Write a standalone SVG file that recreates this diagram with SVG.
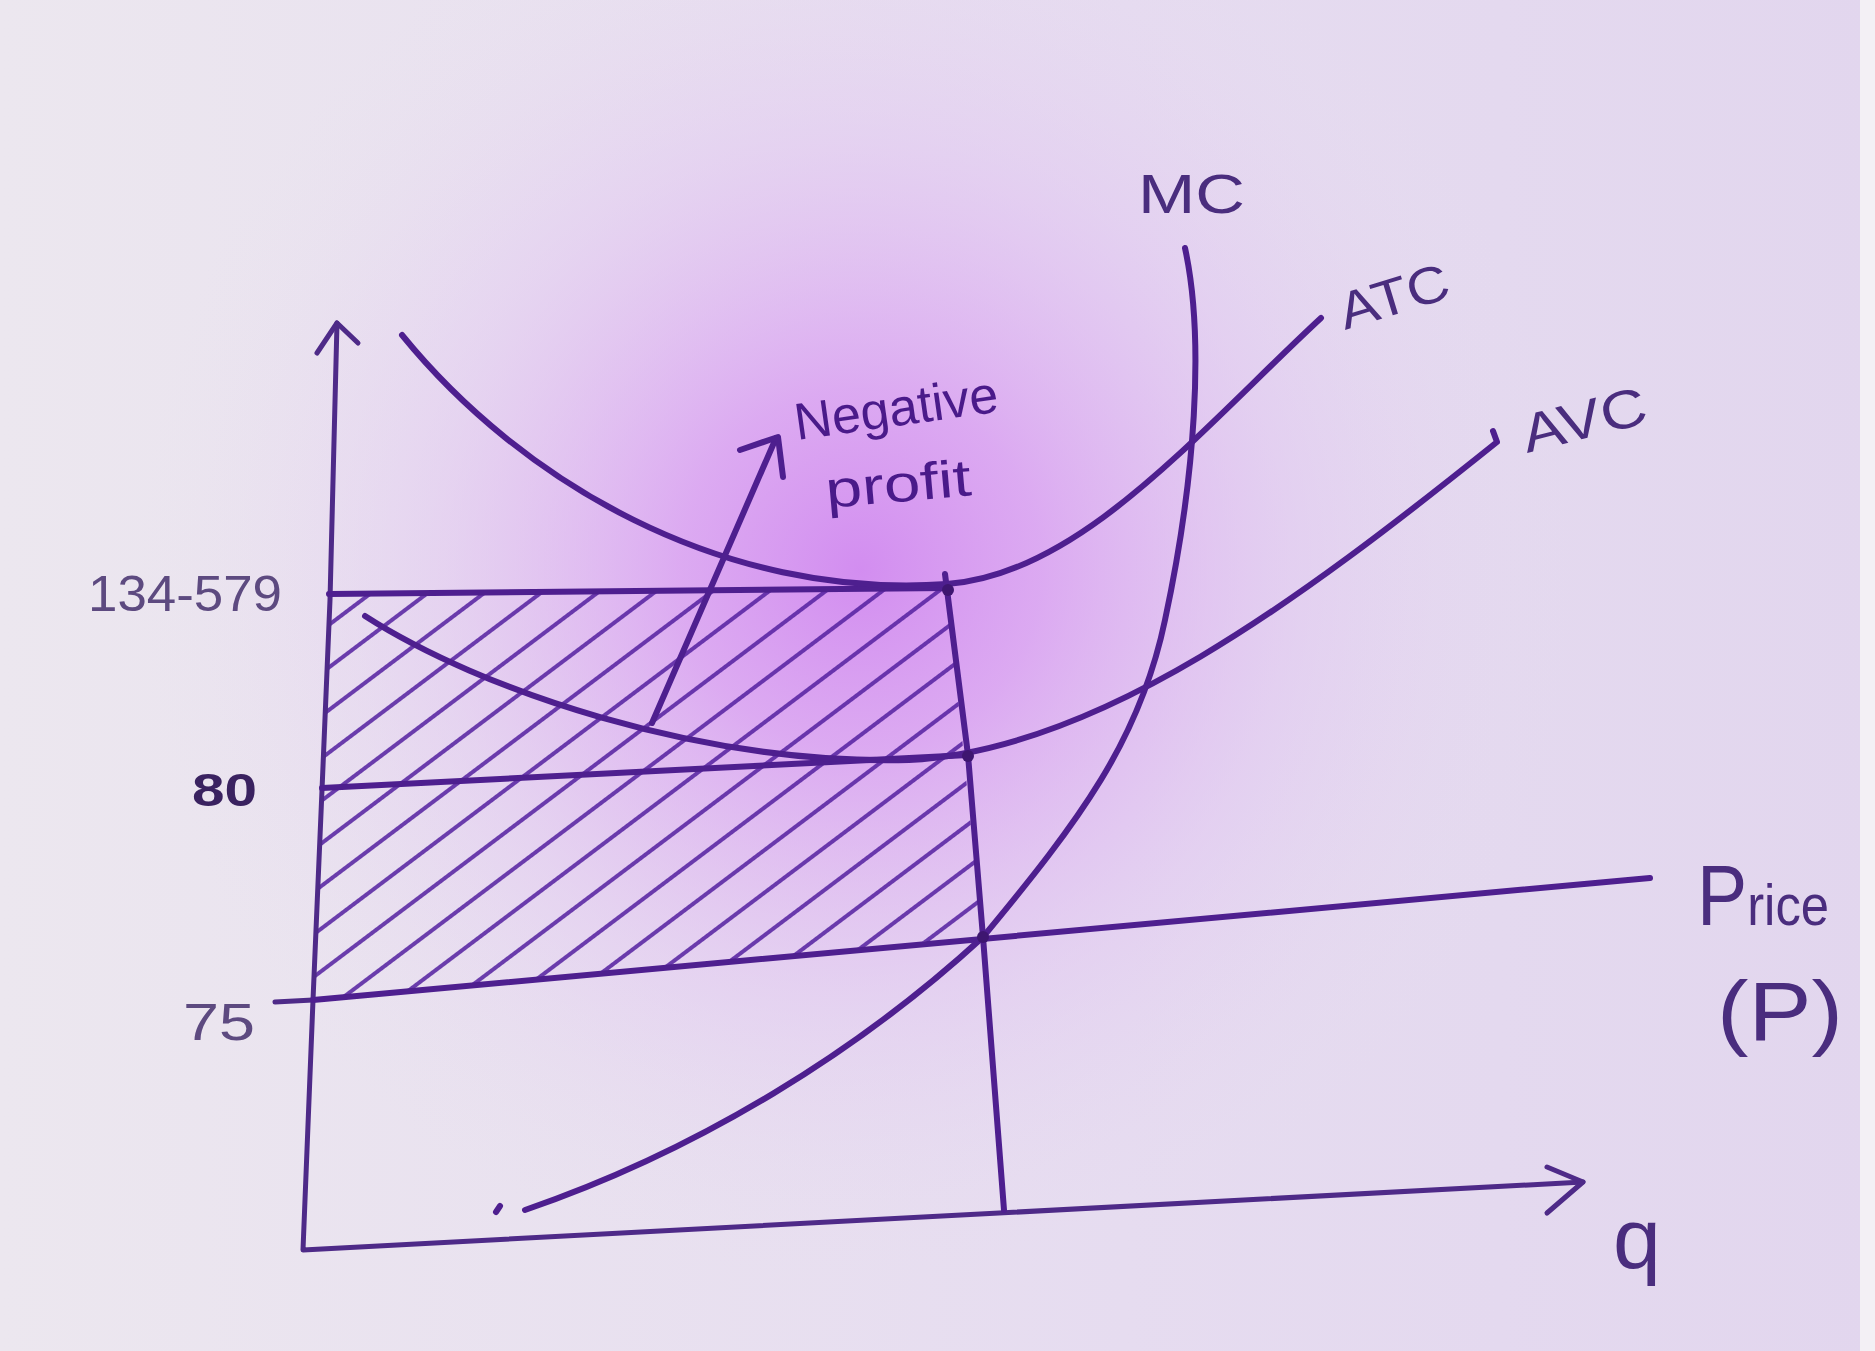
<svg xmlns="http://www.w3.org/2000/svg" width="1875" height="1351" viewBox="0 0 1875 1351">
  <defs>
    <radialGradient id="glow" cx="860" cy="570" r="720" gradientUnits="userSpaceOnUse">
      <stop offset="0" stop-color="#d084f0" stop-opacity="0.9"/>
      <stop offset="0.25" stop-color="#d898f2" stop-opacity="0.75"/>
      <stop offset="0.6" stop-color="#e0bff2" stop-opacity="0.4"/>
      <stop offset="1" stop-color="#e8dff0" stop-opacity="0"/>
    </radialGradient>
    <linearGradient id="paper" x1="0" y1="0" x2="1" y2="0">
      <stop offset="0" stop-color="#ece7ef"/>
      <stop offset="0.6" stop-color="#e6dcf0"/>
      <stop offset="1" stop-color="#e2d6ee"/>
    </linearGradient>
    <pattern id="hatch" width="34" height="34" patternUnits="userSpaceOnUse" patternTransform="rotate(-37)">
      <line x1="-2" y1="17" x2="36" y2="17" stroke="#5420a0" stroke-width="4"/>
    </pattern>
  </defs>
  <style>
    .pen { fill: none; stroke: #4e1f8f; stroke-width: 6; stroke-linecap: round; stroke-linejoin: round; }
    .thin { fill: none; stroke: #4e2a88; stroke-width: 5; stroke-linecap: round; stroke-linejoin: round; }
    .lbl { font-family: "Liberation Sans", "DejaVu Sans", sans-serif; fill: #4a2d7e; }
    .dot { fill: #3e1670; }
  </style>

  <!-- paper -->
  <rect width="1875" height="1351" fill="url(#paper)"/>
  <rect width="1875" height="1351" fill="url(#glow)"/>
  <rect x="1860" y="0" width="15" height="1351" fill="#f3f0f5"/>

  <!-- hatched negative profit area -->
  <g id="hatching">
    <polygon points="329,594 947,588 982,936 313,1000" fill="url(#hatch)" opacity="0.85"/>
  </g>

  <!-- axes -->
  <g id="axes">
    <path class="thin" d="M337,323 L330,600 L322,790 L313,1000 L303,1250 L1583,1182"/>
    <path class="thin" d="M317,353 L337,323 L358,343"/>
    <path class="thin" d="M1547,1167 L1583,1182 L1547,1213"/>
    <path class="thin" d="M275,1002 L313,1000"/>
  </g>

  <!-- level lines -->
  <g id="lines">
    <path class="pen" d="M329,594 L947,588"/>
    <path class="pen" d="M322,788 L968,755"/>
    <path class="pen" d="M313,1000 L1650,878"/>
    <path class="pen" d="M945,574 L968,755 L983,937 L1004,1210"/>
  </g>

  <!-- cost curves -->
  <g id="curves">
    <path id="mc" class="pen" d="M525,1210 C700,1150 860,1050 983,937 C1080,820 1140,740 1165,620 C1195,480 1205,340 1185,248"/>
    <path class="pen" d="M496,1212 L500,1206"/>
    <path id="atc" class="pen" d="M402,335 C520,480 720,600 947,584 C1080,575 1200,430 1321,318"/>
    <path id="avc" class="pen" d="M365,616 C480,690 700,765 909,760 C1100,750 1300,600 1497,442 L1493,431"/>
  </g>

  <!-- pointer arrow -->
  <g id="connectors">
    <path class="pen" d="M652,723 L776,438"/>
    <path class="pen" d="M740,450 L778,437 L783,477"/>
  </g>

  <!-- intersection dots -->
  <g id="dots">
    <circle class="dot" cx="948" cy="590" r="6"/>
    <circle class="dot" cx="968" cy="756" r="6"/>
    <circle class="dot" cx="983" cy="937" r="6"/>
  </g>

  <!-- labels -->
  <g id="labels">
    <text class="lbl" x="1138" y="213" font-size="56" textLength="107" lengthAdjust="spacingAndGlyphs">MC</text>
    <text class="lbl" x="1345" y="330" font-size="52" textLength="113" lengthAdjust="spacingAndGlyphs" transform="rotate(-17 1345 330)">ATC</text>
    <text class="lbl" x="1527" y="453" font-size="54" textLength="127" lengthAdjust="spacingAndGlyphs" transform="rotate(-14 1527 453)">AVC</text>
    <text class="lbl" x="797" y="440" font-size="52" textLength="205" lengthAdjust="spacingAndGlyphs" transform="rotate(-8 797 440)" style="fill:#4a1a8a">Negative</text>
    <text class="lbl" x="827" y="508" font-size="52" textLength="146" lengthAdjust="spacingAndGlyphs" transform="rotate(-5 827 508)" style="fill:#4a1a8a">profit</text>
    <text class="lbl" x="88" y="611" font-size="50" textLength="194" lengthAdjust="spacingAndGlyphs" style="fill:#5d4a80">134-579</text>
    <text class="lbl" x="192" y="806" font-size="46" font-weight="bold" textLength="65" lengthAdjust="spacingAndGlyphs" style="fill:#3a2260">80</text>
    <text class="lbl" x="183" y="1040" font-size="52" textLength="72" lengthAdjust="spacingAndGlyphs" style="fill:#5d4a80">75</text>
    <text class="lbl" x="1697" y="925" textLength="132" lengthAdjust="spacingAndGlyphs"><tspan font-size="86">P</tspan><tspan font-size="58">rice</tspan></text>
    <text class="lbl" x="1717" y="1040" font-size="84" textLength="126" lengthAdjust="spacingAndGlyphs">(P)</text>
    <text class="lbl" x="1613" y="1268" font-size="86">q</text>
  </g>
</svg>
